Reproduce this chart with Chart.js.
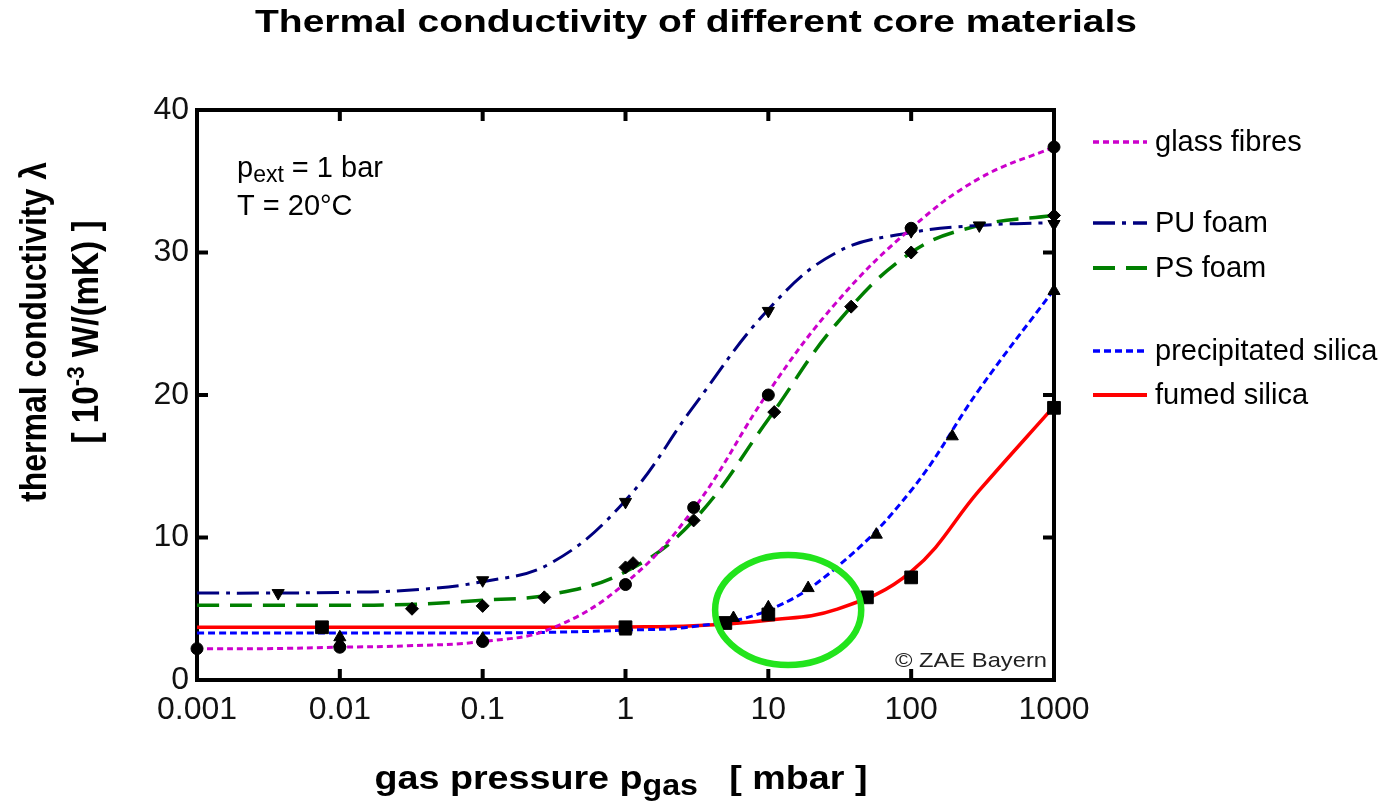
<!DOCTYPE html>
<html>
<head>
<meta charset="utf-8">
<title>Thermal conductivity of different core materials</title>
<script src="https://cdn.jsdelivr.net/npm/chart.js@4.4.1/dist/chart.umd.min.js"></script>
<style>
  html, body { margin: 0; padding: 0; background: #fff; }
  .wrap { position: relative; width: 1394px; height: 805px; }
</style>
</head>
<body>
<div class="wrap"><canvas id="chart"></canvas></div>
<script>
// --- DATA --- //
// pressure values (mbar) where the fitted curves were read off
const curveP = [0.001, 0.003, 0.01, 0.03, 0.1, 0.3, 1, 3, 10, 30, 100, 300, 1000]

// fitted curves, lambda in 10^-3 W/(mK)
const glassCurve = [2.2, 2.2, 2.3, 2.4, 2.7, 3.6, 6.8, 12.0, 20.2, 26.5, 31.7, 35.2, 37.4]
const puCurve = [6.1, 6.1, 6.15, 6.3, 6.9, 8.2, 12.6, 19.2, 26.0, 30.0, 31.4, 31.9, 32.1]
const psCurve = [5.25, 5.25, 5.25, 5.3, 5.6, 6.0, 7.6, 11.2, 18.3, 25.0, 30.0, 31.9, 32.6]
const precCurve = [3.3, 3.3, 3.3, 3.3, 3.3, 3.35, 3.5, 3.75, 4.9, 7.9, 13.3, 20.4, 27.4]
const fumedCurve = [3.7, 3.7, 3.7, 3.7, 3.7, 3.7, 3.72, 3.8, 4.2, 4.95, 7.6, 13.3, 19.2]

// measured points (black markers)
const glassP = [0.001, 0.01, 0.1, 1, 3, 10, 100, 1000]
const glassK = [2.2, 2.3, 2.7, 6.7, 12.1, 20.0, 31.7, 37.4]
const puP = [0.0037, 0.1, 1, 10, 100, 300, 1000]
const puK = [6.1, 7.0, 12.5, 25.9, 31.5, 31.9, 32.0]
const psP = [0.032, 0.1, 0.27, 1, 1.13, 3, 11, 38, 100, 1000]
const psK = [5.0, 5.2, 5.8, 7.9, 8.2, 11.2, 18.8, 26.2, 30.0, 32.6]
const precP = [0.01, 0.01, 0.1, 1, 5.7, 10, 19, 57, 194, 1000]
const precK = [2.6, 3.0, 2.9, 3.4, 4.35, 5.1, 6.45, 10.2, 17.1, 27.3]
const fumedP = [0.0075, 1, 5, 10, 49, 100, 1000]
const fumedK = [3.7, 3.7, 4.0, 4.6, 5.8, 7.2, 19.1]

// axis ticks
const xTicks = [0.001, 0.01, 0.1, 1, 10, 100, 1000]
const xTickLabels = ['0.001', '0.01', '0.1', '1', '10', '100', '1000']
const yTicks = [0, 10, 20, 30, 40]

// green highlight ellipse (data units)
const ringP = [4.24, 44.7]
const ringK = [1.05, 8.77]

// --- STYLES --- //
const FONT = "'Liberation Sans', Arial, Helvetica, sans-serif"
const series = [
  { label: 'glass fibres', curve: glassCurve, px: glassP, py: glassK, color: '#cc00cc', dash: [6, 4], width: 3, marker: 'circle', radius: 6, rot: 0, legendY: 142 },
  { label: 'PU foam', curve: puCurve, px: puP, py: puK, color: '#00007f', dash: [22, 7, 4, 7], width: 3, marker: 'triangle', radius: 7, rot: 180, legendY: 223 },
  { label: 'PS foam', curve: psCurve, px: psP, py: psK, color: '#007f00', dash: [22, 11], width: 3.5, marker: 'rectRot', radius: 6.5, rot: 0, legendY: 268 },
  { label: 'precipitated silica', curve: precCurve, px: precP, py: precK, color: '#0000ff', dash: [7, 4], width: 3, marker: 'triangle', radius: 7, rot: 0, legendY: 351 },
  { label: 'fumed silica', curve: fumedCurve, px: fumedP, py: fumedK, color: '#ff0000', dash: [], width: 3.5, marker: 'rect', radius: 9, rot: 0, legendY: 395 }
]

const toPts = (xs, ys) => xs.map((x, i) => ({ x, y: ys[i] }))

const datasets = []
series.forEach(s => {
  datasets.push({
    label: s.label,
    data: toPts(curveP, s.curve),
    showLine: true,
    borderColor: s.color,
    borderWidth: s.width,
    borderDash: s.dash,
    tension: 0.4,
    pointRadius: 0,
    order: 2
  })
  datasets.push({
    label: s.label + ' (data)',
    data: toPts(s.px, s.py),
    showLine: false,
    pointStyle: s.marker,
    pointRotation: s.rot,
    pointRadius: s.radius,
    pointBackgroundColor: '#000',
    pointBorderColor: '#000',
    pointBorderWidth: 1,
    clip: false,
    order: 1
  })
})

// draws text pieces (with sub/superscripts), squeezed or stretched to a given width
function drawRun (ctx, parts, x, y, opts) {
  ctx.save()
  let total = 0
  for (const p of parts) {
    ctx.font = p.font
    p.w = ctx.measureText(p.text).width
    total += p.w
  }
  ctx.translate(x, y)
  if (opts.angle) ctx.rotate(opts.angle)
  const sx = opts.width ? opts.width / total : 1
  ctx.scale(sx, 1)
  let cx = opts.align === 'center' ? -total / 2 : 0
  ctx.fillStyle = opts.color || '#000'
  ctx.textBaseline = opts.baseline || 'alphabetic'
  ctx.textAlign = 'left'
  for (const p of parts) {
    ctx.font = p.font
    ctx.fillText(p.text, cx, p.dy || 0)
    cx += p.w
  }
  ctx.restore()
}

// --- FRAME + INWARD TICKS --- //
const frame = {
  id: 'frame',
  beforeDatasetsDraw: chart => {
    const ctx = chart.ctx
    const { left, right, top, bottom } = chart.chartArea
    const xs = chart.scales.x
    const ys = chart.scales.y
    ctx.save()
    ctx.strokeStyle = '#000'
    ctx.lineWidth = 4
    ctx.lineCap = 'butt'
    ctx.beginPath()
    xTicks.forEach(v => {
      const px = xs.getPixelForValue(v)
      ctx.moveTo(px, bottom); ctx.lineTo(px, bottom - 11)
      ctx.moveTo(px, top); ctx.lineTo(px, top + 11)
    })
    yTicks.forEach(v => {
      const py = ys.getPixelForValue(v)
      ctx.moveTo(left, py); ctx.lineTo(left + 11, py)
      ctx.moveTo(right, py); ctx.lineTo(right - 11, py)
    })
    ctx.stroke()
    ctx.lineJoin = 'miter'
    ctx.strokeRect(left, top, right - left, bottom - top)
    ctx.restore()
  },
  afterDatasetsDraw: chart => {
    // green ring around the crossing of the silica curves
    const ctx = chart.ctx
    const xs = chart.scales.x
    const ys = chart.scales.y
    const x0 = xs.getPixelForValue(ringP[0])
    const x1 = xs.getPixelForValue(ringP[1])
    const y0 = ys.getPixelForValue(ringK[1])
    const y1 = ys.getPixelForValue(ringK[0])
    ctx.save()
    ctx.strokeStyle = '#22e41c'
    ctx.lineWidth = 6.5
    ctx.beginPath()
    ctx.ellipse((x0 + x1) / 2, (y0 + y1) / 2, (x1 - x0) / 2, (y1 - y0) / 2, 0, 0, Math.PI * 2)
    ctx.stroke()
    ctx.restore()
  }
}

// --- TITLES, NOTES, LEGEND --- //
const decorations = {
  id: 'decorations',
  afterDraw: chart => {
    const ctx = chart.ctx
    const bold = s => `bold ${s}px ${FONT}`
    const reg = s => `${s}px ${FONT}`

    // title
    drawRun(ctx, [{ text: 'Thermal conductivity of different core materials', font: bold(31) }],
      696, 32, { align: 'center', width: 882 })

    // x axis title
    drawRun(ctx, [
      { text: 'gas pressure p', font: bold(34) },
      { text: 'gas', font: bold(29), dy: 6 },
      { text: '   [ mbar ]', font: bold(34) }
    ], 621, 789, { align: 'center', width: 493 })

    // y axis title, two rotated lines
    drawRun(ctx, [{ text: 'thermal conductivity \u03bb', font: bold(36) }],
      46, 332, { align: 'center', width: 340, angle: -Math.PI / 2 })
    drawRun(ctx, [
      { text: '[ 10', font: bold(36) },
      { text: '-3', font: bold(24), dy: -14 },
      { text: ' W/(mK) ]', font: bold(36) }
    ], 98, 332, { align: 'center', width: 223, angle: -Math.PI / 2 })

    // conditions
    drawRun(ctx, [
      { text: 'p', font: reg(29) },
      { text: 'ext', font: reg(23), dy: 5 },
      { text: ' = 1 bar', font: reg(29) }
    ], 237, 177, { align: 'left' })
    drawRun(ctx, [{ text: 'T = 20\u00b0C', font: reg(29) }], 237, 215, { align: 'left' })

    // copyright
    drawRun(ctx, [{ text: '\u00a9 ZAE Bayern', font: reg(21) }], 895, 667,
      { align: 'left', width: 152, color: '#222' })

    // legend
    series.forEach(s => {
      ctx.save()
      ctx.strokeStyle = s.color
      ctx.lineWidth = s.width + 0.5
      ctx.setLineDash(s.dash)
      ctx.beginPath()
      ctx.moveTo(1093, s.legendY)
      ctx.lineTo(1147, s.legendY)
      ctx.stroke()
      ctx.restore()
      drawRun(ctx, [{ text: s.label, font: reg(29) }], 1155, s.legendY + 1,
        { align: 'left', baseline: 'middle' })
    })
  }
}

const chart = new Chart(document.getElementById('chart'), {
  type: 'scatter',
  data: { datasets },
  options: {
    responsive: true,
    maintainAspectRatio: false,
    animation: false,
    events: [],
    layout: { padding: { top: 110, right: 340, left: 0, bottom: 0 } },
    plugins: {
      legend: { display: false },
      tooltip: { enabled: false }
    },
    scales: {
      x: {
        type: 'logarithmic',
        min: 0.001,
        max: 1000,
        afterBuildTicks: s => { s.ticks = xTicks.map(v => ({ value: v })) },
        afterFit: s => { s.height = 125 },
        grid: { display: false, drawTicks: false },
        border: { display: false },
        ticks: {
          autoSkip: false,
          maxRotation: 0,
          padding: 11,
          color: '#111',
          font: { family: FONT, size: 32 },
          callback: v => xTickLabels[xTicks.indexOf(v)]
        }
      },
      y: {
        min: 0,
        max: 40,
        afterBuildTicks: s => { s.ticks = yTicks.map(v => ({ value: v })) },
        afterFit: s => { s.width = 197 },
        grid: { display: false, drawTicks: false },
        border: { display: false },
        ticks: {
          padding: 8,
          color: '#111',
          font: { family: FONT, size: 32 }
        }
      }
    }
  },
  plugins: [frame, decorations]
})
</script>
</body>
</html>
